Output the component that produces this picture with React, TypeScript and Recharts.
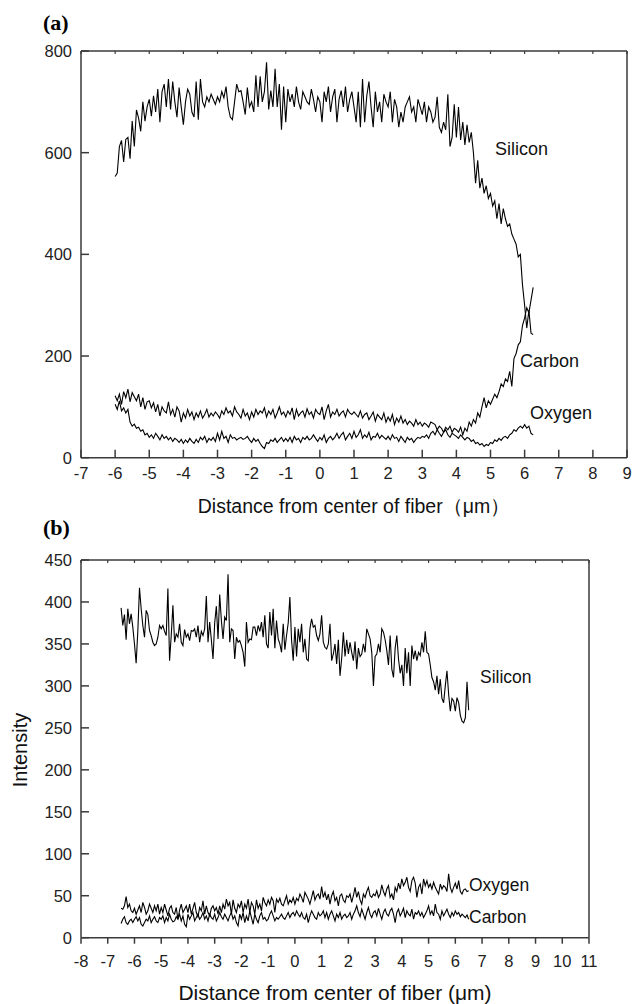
import React from "react";
import { LineChart, Line, XAxis, YAxis } from "recharts";

// sampling grid (μm): 16 samples per micron
const STEP = 0.0625;
const A_START = -6;
const B_START = -6.5;

// ---- panel (a) ----
const aSilicon = [
  553, 560, 612, 624, 582, 626, 630, 588, 662, 612, 684, 668, 642, 700, 662, 690,
  705, 672, 712, 680, 725, 660, 720, 735, 690, 745, 685, 740, 700, 670, 728, 690,
  655, 700, 725, 715, 680, 670, 740, 665, 745, 700, 690, 710, 700, 715, 705, 695,
  710, 700, 720, 708, 730, 690, 670, 665, 700, 735, 720, 722, 700, 675, 728, 690,
  700, 680, 752, 690, 750, 700, 720, 778, 685, 722, 690, 765, 690, 735, 645, 730,
  660, 725, 700, 715, 690, 730, 700, 685, 720, 710, 700, 695, 725, 705, 680, 710,
  700, 660, 720, 700, 730, 680, 710, 725, 660, 705, 722, 690, 730, 680, 705, 720,
  690, 660, 720, 650, 745, 660, 712, 740, 690, 650, 720, 680, 700, 660, 715, 700,
  690, 720, 660, 705, 690, 650, 680, 660, 690, 700, 710, 680, 690, 660, 705, 690,
  675, 700, 660, 690, 680, 660, 670, 710, 650, 640, 660, 645, 715, 612, 630, 695,
  630, 690, 625, 660, 615, 655, 620, 640, 600, 540, 585, 530, 550, 520, 535, 510,
  520, 495, 505, 470, 500, 460, 490, 470, 455, 460, 440, 430, 420, 395, 400, 340,
  300, 255, 290, 245, 242,
];
const aCarbon = [
  122, 112, 125, 105, 130, 118, 135, 110, 128, 120, 112, 125, 100, 118, 95, 110,
  112, 98, 108, 90, 105, 82, 100, 92, 88, 110, 85, 95, 80, 100, 92, 70,
  88, 78, 95, 82, 90, 75, 88, 80, 92, 78, 85, 95, 80, 88, 82, 90,
  85, 78, 92, 85, 98, 88, 92, 82, 100, 90, 85, 78, 95, 82, 88, 75,
  90, 80, 95, 85, 92, 88, 98, 80, 92, 85, 95, 78, 88, 100, 85, 90,
  80, 92, 85, 98, 75, 95, 82, 88, 92, 80, 96, 85, 90, 78, 95, 88,
  85, 100, 75, 92, 105, 80, 90, 85, 95, 82, 88, 92, 80, 95, 88, 85,
  90, 85, 80, 92, 78, 85, 88, 75, 82, 90, 72, 85, 80, 75, 88, 70,
  80, 72, 85, 65, 78, 70, 82, 68, 75, 65, 72, 68, 62, 75, 65, 70,
  62, 68, 65, 60, 70, 68, 65, 55, 62, 58, 50, 60, 55, 62, 50, 58,
  55, 50, 60, 45, 58, 52, 70, 62, 75, 68, 88, 80, 100, 118, 98, 112,
  105, 115, 125, 118, 130, 145, 140, 155, 150, 170, 140, 195, 205, 222, 228, 260,
  275, 295, 285, 310, 335,
];
const aOxygen = [
  105, 95, 112, 92, 98, 88, 95, 70, 62, 66, 58, 60, 52, 55, 45, 48,
  40, 45, 38, 48, 42, 35, 45, 38, 42, 35, 40, 32, 38, 35, 30, 36,
  28, 35, 30, 38, 32, 28, 36, 30, 40, 35, 42, 30, 38, 34, 40, 32,
  48, 35, 52, 38, 42, 30, 45, 38, 40, 35, 38, 40, 36, 38, 42, 35,
  30, 38, 32, 36, 28, 22, 18, 30, 28, 35, 32, 38, 30, 35, 40, 32,
  38, 32, 40, 30, 42, 35, 38, 30, 40, 36, 42, 35, 38, 45, 38, 32,
  40, 35, 45, 30, 38, 42, 35, 40, 48, 38, 45, 50, 35, 42, 48, 38,
  52, 40, 45, 55, 38, 45, 40, 50, 35, 42, 40, 48, 38, 44, 40, 36,
  42, 35, 45, 38, 40, 32, 42, 36, 30, 40, 35, 38, 30, 36, 40, 38,
  42, 40, 45, 38, 48, 52, 45, 55, 48, 42, 50, 55, 45, 40, 48, 45,
  42, 38, 45, 40, 35, 40, 38, 32, 35, 28, 30, 25, 28, 22, 26, 24,
  30, 28, 35, 32, 38, 34, 40, 42, 38, 45, 48, 55, 52, 58, 62, 58,
  65, 58, 62, 48, 45,
];
const aXTicks = [-7, -6, -5, -4, -3, -2, -1, 0, 1, 2, 3, 4, 5, 6, 7, 8, 9];
const aYTicks = [0, 200, 400, 600, 800];

// ---- panel (b) ----
const bSilicon = [
  393, 372, 385, 355, 392, 374, 386, 370,
  350, 327, 365, 417, 392, 372, 358, 390, 385, 366, 360, 352, 348, 350, 358, 372,
  368, 372, 365, 360, 416, 330, 360, 396, 352, 362, 358, 374, 352, 348, 367, 358,
  362, 354, 366, 365, 368, 358, 372, 352, 365, 360, 368, 407, 352, 376, 355, 332,
  375, 395, 356, 409, 378, 356, 382, 378, 433, 352, 368, 366, 332, 358, 352, 354,
  348, 340, 323, 376, 352, 356, 355, 370, 370, 360, 372, 365, 376, 358, 384, 350,
  345, 388, 360, 392, 345, 378, 356, 350, 340, 374, 343, 360, 375, 406, 355, 330,
  370, 335, 368, 352, 374, 340, 356, 332, 330, 368, 380, 370, 372, 360, 354, 362,
  384, 352, 346, 344, 350, 374, 330, 338, 350, 326, 355, 312, 333, 364, 335, 355,
  338, 352, 340, 330, 353, 320, 345, 335, 338, 350, 340, 368, 362, 356, 340, 300,
  335, 338, 350, 340, 368, 364, 355, 342, 325, 360, 320, 310, 345, 360, 332, 315,
  325, 300, 345, 315, 340, 300, 348, 332, 342, 330, 340, 336, 352, 340, 365, 340,
  338, 325, 310, 305, 295, 312, 290, 308, 285, 280, 300, 318, 290, 270, 285, 282,
  270, 286, 280, 265, 258, 256, 262, 305, 271,
];
const bOxygen = [
  35, 34, 38, 49, 36, 40, 32, 30,
  35, 28, 33, 38, 30, 42, 36, 28, 32, 40, 35, 30, 38, 32, 40, 28,
  36, 30, 40, 33, 26, 35, 38, 30, 28, 36, 22, 33, 40, 30, 34, 38,
  30, 40, 28, 35, 42, 30, 25, 36, 32, 44, 28, 38, 30, 26, 35, 38,
  32, 36, 28, 38, 30, 40, 34, 46, 38, 42, 28, 45, 35, 30, 40, 36,
  44, 30, 40, 35, 46, 30, 42, 38, 28, 45, 35, 40, 32, 48, 42, 38,
  45, 40, 48, 44, 30, 46, 42, 47, 40, 38, 44, 50, 40, 45, 42, 48,
  40, 47, 44, 52, 48, 42, 54, 50, 46, 40, 48, 56, 45, 50, 52, 46,
  61, 48, 54, 45, 52, 40, 50, 55, 44, 48, 38, 50, 52, 45, 42, 50,
  48, 52, 42, 50, 60, 48, 55, 45, 40, 52, 48, 55, 60, 50, 48, 52,
  50, 56, 48, 52, 63, 55, 50, 58, 62, 48, 52, 45, 60, 55, 65, 58,
  70, 62, 66, 72, 60, 55, 68, 72, 65, 48, 60, 64, 52, 70, 62, 68,
  60, 64, 58, 66, 60, 56, 52, 64, 58, 62, 60, 55, 76, 60, 54, 60,
  65, 58, 68, 55, 52, 57, 58, 55, 56,
];
const bCarbon = [
  17, 22, 25, 18, 16, 20, 22, 18,
  22, 25, 20, 24, 16, 14, 18, 22, 20, 26, 18, 22, 25, 20, 18, 24,
  22, 26, 18, 24, 20, 28, 22, 19, 20, 25, 22, 28, 20, 26, 16, 13,
  28, 22, 26, 30, 20, 24, 28, 22, 25, 30, 22, 26, 20, 28, 24, 22,
  28, 20, 24, 30, 25, 22, 28, 24, 20, 26, 30, 22, 26, 18, 14, 28,
  22, 30, 18, 26, 20, 32, 24, 16, 28, 22, 18, 26, 30, 22, 24, 20,
  22, 28, 32, 26, 20, 24, 22, 25, 28, 24, 22, 26, 30, 24, 28, 30,
  26, 32, 28, 25, 30, 24, 22, 28, 18, 26, 32, 28, 24, 22, 30, 26,
  28, 32, 24, 30, 22, 28, 32, 26, 20, 28, 24, 30, 22, 26, 28, 24,
  26, 30, 22, 28, 32, 38, 30, 25, 34, 28, 22, 30, 36, 28, 24, 30,
  32, 26, 35, 28, 22, 30, 34, 28, 26, 32, 35, 28, 18, 30, 34, 26,
  30, 35, 24, 32, 28, 26, 34, 22, 30, 28, 32, 26, 30, 24, 28, 32,
  38, 28, 32, 26, 40, 30, 28, 22, 32, 26, 30, 34, 28, 24, 30, 26,
  32, 28, 30, 25, 28, 26, 24, 27, 22,
];
const bXTicks = [-8, -7, -6, -5, -4, -3, -2, -1, 0, 1, 2, 3, 4, 5, 6, 7, 8, 9, 10, 11];
const bYTicks = [0, 50, 100, 150, 200, 250, 300, 350, 400, 450];

const aData = aSilicon.map((v, i) => ({ x: A_START + i * STEP, si: v, c: aCarbon[i], o: aOxygen[i] }));
const bData = bSilicon.map((v, i) => ({ x: B_START + i * STEP, si: v, c: bCarbon[i], o: bOxygen[i] }));

const AX = "#3a3a3a";
const FONT = "'Liberation Sans', Arial, sans-serif";
const TICK_FS = 16.5;

const bottomTick = (len: number, dy: number) => (p: any) => (
  <g>
    <line x1={p.x} y1={p.y} x2={p.x} y2={p.y + len} stroke={AX} strokeWidth={1.5} />
    <text x={p.x} y={p.y + dy} textAnchor="middle" fontSize={TICK_FS} fontFamily={FONT} fill="#222">
      {String(p.payload.value)}
    </text>
  </g>
);
const leftTick = (p: any) => (
  <g>
    <line x1={p.x} y1={p.y} x2={p.x + 8} y2={p.y} stroke={AX} strokeWidth={1.5} />
    <text x={p.x - 9} y={p.y + 6} textAnchor="end" fontSize={TICK_FS} fontFamily={FONT} fill="#222">
      {String(p.payload.value)}
    </text>
  </g>
);
const topTick = (p: any) => (
  <line x1={p.x} y1={p.y} x2={p.x} y2={p.y + 3} stroke={AX} strokeWidth={1.2} />
);
const rightTick = (p: any) => (
  <line x1={p.x} y1={p.y} x2={p.x - 3} y2={p.y} stroke={AX} strokeWidth={1.2} />
);

function Panel(props: {
  data: any[]; width: number; height: number; top: number; topAxis: number; bottomMargin: number;
  rightMargin: number; xDomain: [number, number]; xTicks: number[]; yDomain: [number, number];
  yTicks: number[]; bottomLen: number; bottomDy: number;
}) {
  const p = props;
  return (
    <div style={{ position: "absolute", left: 0, top: p.top }}>
      <LineChart width={p.width} height={p.height} data={p.data}
        margin={{ top: 0, right: p.rightMargin, left: 0, bottom: p.bottomMargin }}>
        <XAxis xAxisId="b" dataKey="x" type="number" domain={p.xDomain} ticks={p.xTicks} interval={0}
          height={30} tickSize={0} tickMargin={0} tickLine={false} tick={bottomTick(p.bottomLen, p.bottomDy)}
          axisLine={{ stroke: AX, strokeWidth: 1.5 }} />
        <XAxis xAxisId="t" orientation="top" dataKey="x" type="number" domain={p.xDomain} ticks={p.xTicks}
          interval={0} height={p.topAxis} tickSize={0} tickMargin={0} tickLine={false} tick={topTick}
          axisLine={{ stroke: AX, strokeWidth: 1.5 }} />
        <YAxis yAxisId="l" type="number" domain={p.yDomain} ticks={p.yTicks} interval={0} width={81}
          tickSize={0} tickMargin={0} tickLine={false} tick={leftTick} axisLine={{ stroke: AX, strokeWidth: 1.5 }} />
        <YAxis yAxisId="r" orientation="right" type="number" domain={p.yDomain} ticks={p.yTicks} interval={0}
          width={6} tickSize={0} tickMargin={0} tickLine={false} tick={rightTick}
          axisLine={{ stroke: AX, strokeWidth: 1.5 }} />
        <Line xAxisId="b" yAxisId="l" type="linear" dataKey="si" stroke="#000" strokeWidth={1.1} dot={false} isAnimationActive={false} />
        <Line xAxisId="b" yAxisId="l" type="linear" dataKey="c" stroke="#000" strokeWidth={1.1} dot={false} isAnimationActive={false} />
        <Line xAxisId="b" yAxisId="l" type="linear" dataKey="o" stroke="#000" strokeWidth={1.1} dot={false} isAnimationActive={false} />
      </LineChart>
    </div>
  );
}

export default function App() {
  const txt = { fontFamily: FONT, fill: "#111" };
  return (
    <div style={{ position: "absolute", left: 0, top: 0, width: 633, height: 1004, background: "#fff" }}>
      <Panel data={aData} width={633} height={530} top={0} topAxis={51} bottomMargin={42.3} rightMargin={0}
        xDomain={[-7, 9]} xTicks={aXTicks} yDomain={[0, 800]} yTicks={aYTicks} bottomLen={-8} bottomDy={21.5} />
      <Panel data={bData} width={633} height={474} top={530} topAxis={30} bottomMargin={36.3} rightMargin={38}
        xDomain={[-8, 11]} xTicks={bXTicks} yDomain={[0, 450]} yTicks={bYTicks} bottomLen={6} bottomDy={29.5} />
      <svg width={633} height={1004} style={{ position: "absolute", left: 0, top: 0, pointerEvents: "none" }}>
        <text x={43} y={30} fontSize={22} fontWeight="bold" fontFamily="'Liberation Serif', 'Times New Roman', serif">(a)</text>
        <text x={43} y={535} fontSize={22} fontWeight="bold" fontFamily="'Liberation Serif', 'Times New Roman', serif">(b)</text>
        <text x={354} y={513} fontSize={19.5} textAnchor="middle" {...txt}>Distance from center of fiber（μm）</text>
        <text x={335} y={1000} fontSize={21} textAnchor="middle" {...txt}>Distance from center of fiber (μm)</text>
        <text x={27} y={750} fontSize={20} textAnchor="middle" transform="rotate(-90 27 750)" {...txt}>Intensity</text>
        <text x={495} y={154.5} fontSize={18} {...txt}>Silicon</text>
        <text x={520} y={366.5} fontSize={18} {...txt}>Carbon</text>
        <text x={530} y={418.5} fontSize={18} {...txt}>Oxygen</text>
        <text x={480} y={683} fontSize={17.5} {...txt}>Silicon</text>
        <text x={469} y={891} fontSize={17.5} {...txt}>Oxygen</text>
        <text x={469} y={923} fontSize={17.5} {...txt}>Carbon</text>
      </svg>
    </div>
  );
}
